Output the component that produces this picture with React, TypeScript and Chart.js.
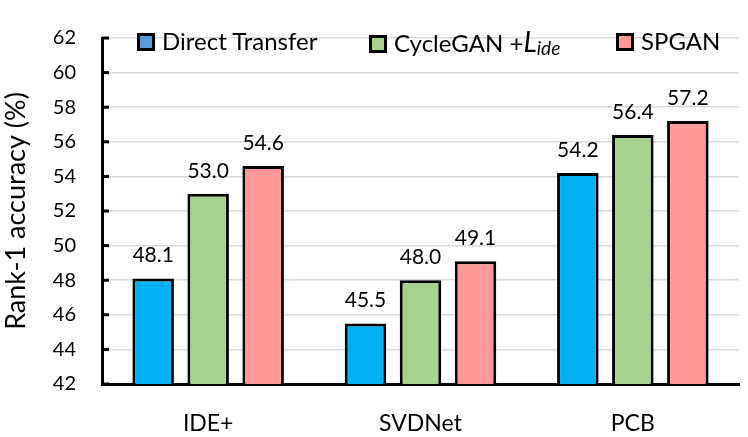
import { useEffect, useRef } from "react";
import { Chart, registerables } from "chart.js";
Chart.register(...registerables);

const categories = ["IDE+", "SVDNet", "PCB"];
const directTransfer = [48.1, 45.5, 54.2];
const cycleGanLide = [53.0, 48.0, 56.4];
const spgan = [54.6, 49.1, 57.2];

const FONT = "Lato, 'Open Sans', sans-serif";

// value labels above each bar
const valueLabels = {
  id: "valueLabels",
  afterDatasetsDraw(chart: any) {
    const ctx = chart.ctx;
    ctx.save();
    ctx.font = `21px ${FONT}`;
    ctx.fillStyle = "#000";
    ctx.textAlign = "center";
    ctx.textBaseline = "alphabetic";
    chart.data.datasets.forEach((ds: any, i: number) => {
      chart.getDatasetMeta(i).data.forEach((bar: any, j: number) => {
        ctx.fillText(ds.data[j].toFixed(1), bar.x, bar.y - 16);
      });
    });
    ctx.restore();
  },
};

// tick marks pointing into the plot, like the original
const innerTicks = {
  id: "innerTicks",
  afterDraw(chart: any) {
    const { ctx, chartArea, scales } = chart;
    const y = scales.y;
    ctx.save();
    ctx.strokeStyle = "#000";
    ctx.lineWidth = 3;
    y.ticks.forEach((t: any) => {
      const py = y.getPixelForValue(t.value);
      ctx.beginPath();
      ctx.moveTo(chartArea.left, py);
      ctx.lineTo(chartArea.left + 7, py);
      ctx.stroke();
    });
    ctx.restore();
  },
};

export default function App() {
  const canvasRef = useRef<HTMLCanvasElement>(null);

  useEffect(() => {
    document.body.style.margin = "0";
    if (!canvasRef.current) return;
    const chart = new Chart(canvasRef.current, {
      type: "bar",
      data: {
        labels: categories,
        datasets: [
          { label: "Direct Transfer", data: directTransfer, backgroundColor: "#00B0F0" },
          { label: "CycleGAN +Lide", data: cycleGanLide, backgroundColor: "#A9D18E" },
          { label: "SPGAN", data: spgan, backgroundColor: "#FF9999" },
        ],
      },
      options: {
        animation: false,
        responsive: false,
        maintainAspectRatio: false,
        layout: { padding: { top: 15, right: 9, left: 0, bottom: 0 } },
        datasets: {
          bar: {
            borderColor: "#000",
            borderWidth: 3,
            categoryPercentage: 0.777,
            barPercentage: 0.755,
          },
        },
        plugins: {
          legend: { display: false },
          tooltip: { enabled: false },
        },
        scales: {
          x: {
            grid: { display: false },
            border: { display: true, color: "#000", width: 3 },
            ticks: {
              color: "#000",
              font: { family: FONT, size: 23 },
              padding: 18,
            },
            afterFit: (s: any) => {
              s.height = 53;
            },
          },
          y: {
            min: 42,
            max: 62,
            ticks: {
              stepSize: 2,
              color: "#000",
              font: { family: FONT, size: 20 },
              padding: 26,
            },
            grid: { color: "#D9D9D9", lineWidth: 1.5, drawTicks: false },
            border: { display: true, color: "#000", width: 3 },
            title: {
              display: true,
              text: "Rank-1 accuracy (%)",
              color: "#000",
              font: { family: FONT, size: 27 },
              padding: 0,
            },
            afterFit: (s: any) => {
              s.width = 102;
            },
          },
        },
      },
      plugins: [valueLabels, innerTicks],
    });
    return () => chart.destroy();
  }, []);

  const swatch = (color: string) => ({
    display: "inline-block",
    width: 12,
    height: 12,
    border: "3px solid #000",
    background: color,
    marginRight: 7,
    verticalAlign: "-1px",
  });
  const item = (left: number) => ({
    position: "absolute" as const,
    left,
    top: 26,
    fontFamily: FONT,
    fontSize: 24,
    color: "#000",
    whiteSpace: "nowrap" as const,
    lineHeight: "30px",
  });

  return (
    <div style={{ position: "relative", width: 748, height: 437 }}>
      <canvas ref={canvasRef} width={748} height={437} />
      <div style={item(137)}>
        <span style={swatch("#5B9BD5")} />
        Direct Transfer
      </div>
      <div style={item(369)}>
        <span style={swatch("#A9D18E")} />
        CycleGAN +
        <i style={{ fontSize: 28 }}>L</i>
        <i style={{ fontSize: 19, verticalAlign: "-3px" }}>ide</i>
      </div>
      <div style={item(616)}>
        <span style={swatch("#FF9999")} />
        SPGAN
      </div>
    </div>
  );
}
